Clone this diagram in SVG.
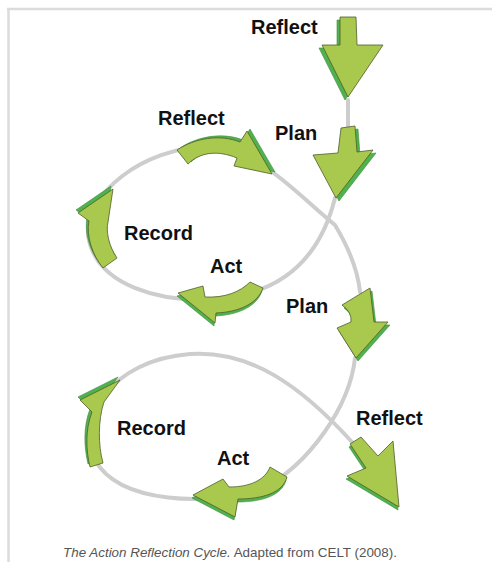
<svg xmlns="http://www.w3.org/2000/svg" width="492" height="562" viewBox="0 0 492 562">
<style>
.lbl{font-family:"Liberation Sans",Arial,sans-serif;font-weight:bold;font-size:20px;fill:#111}
.cap{font-family:"Liberation Sans",Arial,sans-serif;font-size:13.4px;fill:#555}
.line{fill:none;stroke:#cdcdcd;stroke-width:4;stroke-linecap:round}
.ar{fill:#a9c84e;stroke:#4d5e2a;stroke-width:0.8;stroke-linejoin:round}
.sh{fill:#4fb24f;stroke:#3f8a3a;stroke-width:0.6;stroke-linejoin:round}
</style>
<rect width="492" height="562" fill="#fff"/>
<path d="M7,9 H492 M8.5,9 V562" fill="none" stroke="#dcdcdc" stroke-width="2.5"/>

<g id="connectors">
<path class="line" d="M348,100 L348,130"/>
<path class="line" d="M335,198 C322,250 290,290 225,298 C160,305 95,285 88,235 C86,195 140,148 210,146 C255,146 298,195 335,225 C350,250 358,272 360,292"/>
<path class="line" d="M355,358 C350,405 310,465 260,490 C210,505 120,505 95,460 C75,420 110,360 190,354 C250,350 300,385 352,442"/>
</g>

<g id="reflect-top">
<path class="sh" transform="translate(-3,3)" d="M340,17 L356,17 L357,45 L383,45 L348,97 L322,45 L340,45 Z"/>
<path class="ar" d="M340,17 L356,17 L357,45 L383,45 L348,97 L322,45 L340,45 Z"/>
<text class="lbl" x="251" y="34">Reflect</text>
</g>

<g id="plan-top">
<path class="sh" transform="translate(3,3)" d="M341,128 L355,126 L357,152 L373,150 L336,198 L313,155 L338,153 Z"/>
<path class="ar" d="M341,128 L355,126 L357,152 L373,150 L336,198 L313,155 L338,153 Z"/>
<text class="lbl" x="275" y="140">Plan</text>
</g>

<g id="reflect-upper">
<path class="sh" transform="translate(3,-2)" d="M177,150 C195,138 220,134 240,142 L247,131 L272,174 L234,166 L237,158 C218,150 200,152 188,164 Z"/>
<path class="ar" d="M177,150 C195,138 220,134 240,142 L247,131 L272,174 L234,166 L237,158 C218,150 200,152 188,164 Z"/>
<text class="lbl" x="158" y="125">Reflect</text>
</g>

<g id="record-upper">
<path class="sh" transform="translate(-2,-3)" d="M103,268 L117,258 C108,245 106,230 108,222 L113,189 L78,213 L89,221 C86,235 92,255 103,268 Z"/>
<path class="ar" d="M103,268 L117,258 C108,245 106,230 108,222 L113,189 L78,213 L89,221 C86,235 92,255 103,268 Z"/>
<text class="lbl" x="124" y="240">Record</text>
</g>

<g id="act-upper">
<path class="sh" transform="translate(-1,3)" d="M250,282 L263,288 C258,303 240,312 216,313 L215,323 L178,293 L203,286 L205,297 C225,298 240,292 250,282 Z"/>
<path class="ar" d="M250,282 L263,288 C258,303 240,312 216,313 L215,323 L178,293 L203,286 L205,297 C225,298 240,292 250,282 Z"/>
<text class="lbl" x="210" y="273">Act</text>
</g>

<g id="plan-middle">
<path class="sh" transform="translate(2,3)" d="M342,305 L370,288 Q372,305 374,322 L388,322 L356,358 L337,328 L351,322 Q352,312 342,305 Z"/>
<path class="ar" d="M342,305 L370,288 Q372,305 374,322 L388,322 L356,358 L337,328 L351,322 Q352,312 342,305 Z"/>
<text class="lbl" x="286" y="313">Plan</text>
</g>

<g id="record-lower">
<path class="sh" transform="translate(-2,-3)" d="M103,463 C98,445 98,420 104,402 L120,380 L80,400 L92,412 C85,430 86,450 90,467 Z"/>
<path class="ar" d="M103,463 C98,445 98,420 104,402 L120,380 L80,400 L92,412 C85,430 86,450 90,467 Z"/>
<text class="lbl" x="117" y="435">Record</text>
</g>

<g id="act-lower">
<path class="sh" transform="translate(-1,3)" d="M270,467 L287,477 C283,493 262,499 238,499 L235,517 L193,495 L223,479 L229,487 C250,487 265,480 270,467 Z"/>
<path class="ar" d="M270,467 L287,477 C283,493 262,499 238,499 L235,517 L193,495 L223,479 L229,487 C250,487 265,480 270,467 Z"/>
<text class="lbl" x="217" y="465">Act</text>
</g>

<g id="reflect-lower">
<path class="sh" transform="translate(-1,3)" d="M350,444 L361,437 L378,456 L393,441 L399,507 L347,476 L366,468 Z"/>
<path class="ar" d="M350,444 L361,437 L378,456 L393,441 L399,507 L347,476 L366,468 Z"/>
<text class="lbl" x="356" y="425">Reflect</text>
</g>

<text class="cap" x="63" y="557"><tspan font-style="italic">The Action Reflection Cycle.</tspan> Adapted from CELT (2008).</text>
</svg>
